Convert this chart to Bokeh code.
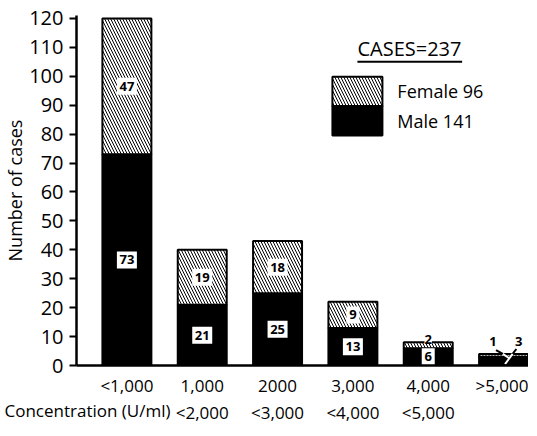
from bokeh.plotting import figure
from bokeh.models import (Range1d, FixedTicker, Label, Title, ColumnDataSource)
from bokeh.core.properties import value
from bokeh.embed import file_html
from bokeh.resources import INLINE

categories = ["<1,000", "1,000\n<2,000", "2000\n<3,000", "3,000\n<4,000", "4,000\n<5,000", ">5,000"]
male = [73, 21, 25, 13, 6, 3]
female = [47, 19, 18, 9, 2, 1]
y_ticks = list(range(0, 121, 10))
total_cases = sum(male) + sum(female)

FONT = "Open Sans"
xs = list(range(len(categories)))
total = [m + f for m, f in zip(male, female)]
src = ColumnDataSource(dict(x=xs, male=male, female=female, total=total))

BW = 0.65
p = figure(width=528, height=427, x_range=Range1d(-0.669, 5.331), y_range=Range1d(0, 121),
           output_backend="svg", toolbar_location=None,
           min_border_left=75, min_border_right=0, min_border_top=15, min_border_bottom=0)
p.outline_line_color = None
p.grid.visible = False

rm = p.vbar(x="x", bottom=0, top="male", width=BW, source=src,
            fill_color="black", line_color="black", line_width=2)
rf = p.vbar(x="x", bottom="male", top="total", width=BW, source=src,
            fill_color="white", line_color="black", line_width=2,
            hatch_pattern="left_diagonal_line", hatch_color="black",
            hatch_scale=6, hatch_weight=1)

# axes
p.yaxis.ticker = FixedTicker(ticks=y_ticks)
p.yaxis.major_label_text_font = FONT
p.yaxis.major_label_text_font_size = "20px"
p.yaxis.major_label_text_color = "black"
p.yaxis.major_label_standoff = 6
p.yaxis.major_tick_out = 7
p.yaxis.major_tick_in = 0
p.yaxis.major_tick_line_width = 2
p.yaxis.minor_tick_line_color = None
p.yaxis.axis_line_width = 2.5

p.xaxis.ticker = FixedTicker(ticks=xs)
p.xaxis.major_label_overrides = {i: c for i, c in enumerate(categories)}
p.xaxis.major_label_text_font = FONT
p.xaxis.major_label_text_font_size = "17px"
p.xaxis.major_label_text_color = "black"
p.xaxis.major_label_standoff = 2
p.xaxis.major_tick_line_color = None
p.xaxis.minor_tick_line_color = None
p.xaxis.axis_line_width = 2.5

p.add_layout(Title(text="Number of cases", align="center", text_font=FONT,
                   text_font_size="18px", text_font_style="normal", text_color="black",
                   standoff=0), "left")
p.add_layout(Title(text="Concentration (U/ml)", align="left", offset=-72, text_font=FONT,
                   text_font_size="17px", text_font_style="normal", text_color="black",
                   vertical_align="top", standoff=-57), "below")

# value labels (white boxes)
lab_x = xs[:5] + xs[:4]
lab_y = [m / 2 for m in male[:5]] + [m + f / 2 for m, f in zip(male[:4], female[:4])]
lab_t = [str(m) for m in male[:5]] + [str(f) for f in female[:4]]
lab_w = [20 if len(t) > 1 else 13 for t in lab_t]
lsrc = ColumnDataSource(dict(x=lab_x, y=lab_y, t=lab_t, w=lab_w))
p.rect(x="x", y="y", width="w", height=17, width_units="screen", height_units="screen",
       source=lsrc, fill_color="white", line_color=None)
p.text(x="x", y="y", text="t", source=lsrc, text_align="center", text_baseline="middle",
       text_font=value(FONT), text_font_style="bold", text_font_size="13px",
       text_color="black")

# small female value on bar 5
p.add_layout(Label(x=xs[4], y=total[4] + 1, text=str(female[4]), text_align="center",
                   text_baseline="middle", text_font=FONT, text_font_style="bold",
                   text_font_size="13px", text_color="black", background_fill_color="white"))
# bar 6 leaders
t6 = total[5]
p.segment(x0=[4.9, 5.17], y0=[t6 + 1.35, t6 + 1.7], x1=[4.99, 5.12], y1=[t6, t6],
          line_color="black", line_width=2)
p.segment(x0=[4.99, 5.12], y0=[t6, t6], x1=[5.07, 5.02], y1=[t6 - 1.4, t6 - 3.5],
          line_color="white", line_width=2)
p.add_layout(Label(x=4.86, y=t6 + 4.3, text=str(female[5]), text_align="center",
                   text_baseline="middle", text_font=FONT, text_font_style="bold",
                   text_font_size="13px", text_color="black"))
p.add_layout(Label(x=5.2, y=t6 + 4.3, text=str(male[5]), text_align="center",
                   text_baseline="middle", text_font=FONT, text_font_style="bold",
                   text_font_size="13px", text_color="black"))

# legend (drawn by hand as in the original figure)
p.rect(x=[3.06], y=[94.7], width=50, height=29.5, width_units="screen", height_units="screen",
       fill_color="white", line_color="black", line_width=2,
       hatch_pattern="left_diagonal_line", hatch_color="black", hatch_scale=6, hatch_weight=1)
p.rect(x=[3.06], y=[84.6], width=50, height=29.5, width_units="screen", height_units="screen",
       fill_color="black", line_color="black", line_width=2)
p.add_layout(Label(x=3.59, y=95.0, text=f"Female  {sum(female)}", text_baseline="middle",
                   text_font=FONT, text_font_size="18px", text_color="black"))
p.add_layout(Label(x=3.59, y=84.7, text=f"Male    {sum(male)}", text_baseline="middle",
                   text_font=FONT, text_font_size="18px", text_color="black"))
p.add_layout(Label(x=3.06, y=109.5, text=f"CASES={total_cases}", text_baseline="middle",
                   text_font=FONT, text_font_size="20px", text_color="black"))
p.segment(x0=[3.06], y0=[105.0], x1=[4.45], y1=[105.0], line_color="black", line_width=2)

open("out.html", "w").write(file_html(p, INLINE))
